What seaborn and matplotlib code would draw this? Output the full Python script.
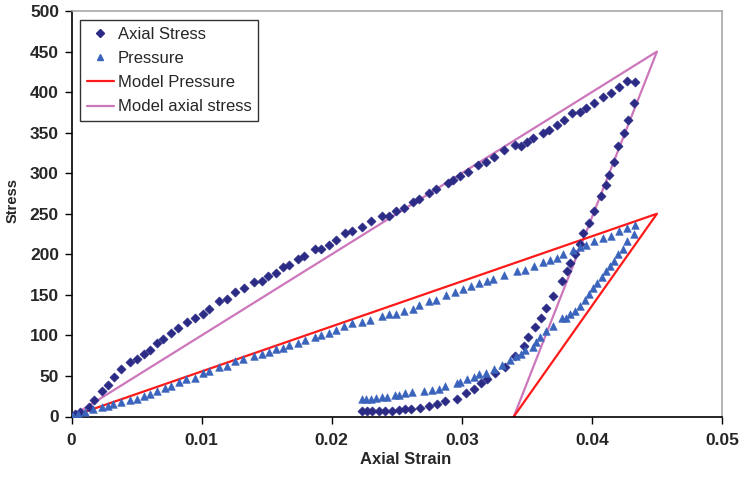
import matplotlib
matplotlib.use("Agg")
import matplotlib.pyplot as plt
from matplotlib import font_manager
from matplotlib.lines import Line2D
import seaborn as sns
import pandas as pd

# ---- data ----
axial_loading = [
    (0, 0), (0.00027, 3), (0.00065, 5), (0.00136, 12), (0.00175, 20), (0.00236, 31),
    (0.00277, 39), (0.00328, 49), (0.00384, 59), (0.0045, 67), (0.00504, 71), (0.00555, 77),
    (0.00601, 82), (0.0066, 91), (0.00703, 95), (0.00762, 103), (0.00821, 109), (0.0089, 117),
    (0.00948, 121), (0.01009, 127), (0.0106, 133), (0.01137, 142), (0.01196, 145), (0.01257, 153),
    (0.01323, 159), (0.01405, 166), (0.01464, 167), (0.01512, 173), (0.01571, 177), (0.01622, 184),
    (0.01673, 187), (0.01742, 194), (0.01788, 198), (0.0187, 206), (0.01916, 206), (0.01979, 212),
    (0.0203, 218), (0.021, 226), (0.02158, 229), (0.02234, 234), (0.02299, 241), (0.02388, 247),
    (0.02439, 247), (0.02498, 253), (0.02554, 257), (0.02623, 264), (0.02674, 268), (0.02745, 275),
    (0.02804, 281), (0.02893, 288), (0.02936, 291), (0.02988, 296), (0.03046, 302), (0.03128, 310),
    (0.03187, 314), (0.0325, 320), (0.03327, 328), (0.03409, 335), (0.03452, 334), (0.03503, 339),
    (0.03549, 343), (0.03626, 350), (0.03672, 353), (0.03728, 359), (0.03784, 366), (0.0385, 374),
    (0.03906, 375), (0.03957, 381), (0.04016, 386), (0.04085, 394), (0.04144, 399), (0.04207, 406),
    (0.04271, 414), (0.04332, 412),
]
axial_unloading = [
    (0.04322, 387), (0.04276, 366), (0.04246, 349), (0.042, 333), (0.04167, 314), (0.04128, 298),
    (0.04106, 285), (0.04072, 272), (0.04014, 254), (0.03975, 239), (0.03932, 226), (0.03906, 213),
    (0.03868, 200), (0.0383, 189), (0.03812, 179), (0.03771, 167), (0.03702, 149), (0.03651, 134),
    (0.03608, 122), (0.0356, 110), (0.03511, 98), (0.0348, 87), (0.03409, 74), (0.03332, 61),
    (0.03256, 54), (0.03192, 46), (0.03149, 41), (0.0309, 34), (0.03031, 29), (0.02962, 21),
    (0.02873, 19), (0.02809, 15), (0.02745, 13), (0.02681, 11), (0.02613, 9), (0.02567, 9),
    (0.02515, 8), (0.02464, 7), (0.02413, 7), (0.02362, 7), (0.02311, 7), (0.0227, 7), (0.0223, 7),
]
pressure_loading = [
    (0, 0), (0.00015, 1), (0.00053, 3), (0.001, 6), (0.00167, 9), (0.00231, 12), (0.00277, 13),
    (0.0032, 16), (0.00384, 18), (0.00448, 20), (0.00507, 22), (0.00555, 25), (0.00601, 28),
    (0.0066, 32), (0.00716, 35), (0.00767, 38), (0.00823, 42), (0.00882, 46), (0.00946, 48),
    (0.01009, 54), (0.01055, 56), (0.01132, 61), (0.01196, 62), (0.01257, 68), (0.01321, 71),
    (0.014, 74), (0.01464, 77), (0.01515, 80), (0.01571, 83), (0.01622, 85), (0.01673, 88),
    (0.01744, 91), (0.01793, 94), (0.01872, 98), (0.01916, 100), (0.01979, 103), (0.0203, 107),
    (0.02094, 112), (0.02158, 115), (0.0223, 117), (0.02293, 119), (0.02383, 124), (0.02439, 126),
    (0.02495, 127), (0.02554, 130), (0.02625, 133), (0.02674, 137), (0.02745, 142), (0.02804, 144),
    (0.02878, 150), (0.0295, 153), (0.0301, 157), (0.0307, 161), (0.0313, 164), (0.0319, 167),
    (0.03243, 170), (0.03327, 174), (0.03421, 180), (0.03485, 181), (0.03554, 186), (0.03626, 190),
    (0.03677, 193), (0.03728, 196), (0.03779, 200), (0.03855, 205), (0.03906, 209), (0.03957, 211),
    (0.04016, 216), (0.04085, 220), (0.04144, 223), (0.04205, 229), (0.04271, 233), (0.04332, 236),
]
pressure_unloading = [
    (0.0432, 225), (0.04271, 216), (0.04238, 207), (0.042, 200), (0.04169, 192), (0.04136, 186),
    (0.0411, 179), (0.04077, 172), (0.04041, 164), (0.04008, 158), (0.03975, 151), (0.03944, 144),
    (0.03906, 136), (0.03868, 130), (0.0383, 126), (0.03804, 121), (0.03771, 121), (0.03702, 111),
    (0.03651, 105), (0.036, 98), (0.03574, 92), (0.03549, 86), (0.03485, 82), (0.03455, 77),
    (0.03417, 74), (0.0337, 70), (0.03306, 64), (0.03248, 58), (0.03187, 54), (0.03136, 52),
    (0.0309, 49), (0.03038, 46), (0.02988, 42), (0.02962, 41), (0.02873, 37), (0.02822, 34),
    (0.0277, 33), (0.02707, 31), (0.02617, 30), (0.02567, 29), (0.02515, 27), (0.0249, 27),
    (0.02426, 24), (0.02388, 24), (0.02337, 23), (0.02299, 22), (0.02261, 22), (0.02234, 22),
]
model_strain = [0, 0.045, 0.034]
model_axial = [0, 450, 0]
model_pressure = [0, 250, 0]

x_ticks = [0, 0.01, 0.02, 0.03, 0.04, 0.05]
x_tick_labels = ["0", "0.01", "0.02", "0.03", "0.04", "0.05"]
y_ticks = [0, 50, 100, 150, 200, 250, 300, 350, 400, 450, 500]

# ---- build tables ----
axial_df = pd.DataFrame(axial_loading + axial_unloading, columns=["strain", "stress"])
press_df = pd.DataFrame(pressure_loading + pressure_unloading, columns=["strain", "stress"])
model_df = pd.DataFrame({"strain": model_strain, "axial": model_axial, "pressure": model_pressure})

sns.set_theme(style="white")
names = {f.name for f in font_manager.fontManager.ttflist}
tick_family = "Liberation Sans Narrow" if "Liberation Sans Narrow" in names else "Liberation Sans"
plt.rcParams["font.family"] = ["Liberation Sans", "DejaVu Sans"]

fig = plt.figure(figsize=(7.41, 4.86), dpi=100)
ax = fig.add_axes([71.5 / 741, 1 - 416.5 / 486, (722 - 71.5) / 741, (416.5 - 11) / 486])

C_AX = "#2B2B86"
C_PR = "#3A64BC"
C_MP = "#FF1A1A"
C_MA = "#CC77BB"

sns.lineplot(data=model_df, x="strain", y="axial", sort=False, estimator=None,
             color=C_MA, lw=1.6, ax=ax, zorder=2)
sns.lineplot(data=model_df, x="strain", y="pressure", sort=False, estimator=None,
             color=C_MP, lw=1.6, ax=ax, zorder=2)
sns.scatterplot(data=axial_df, x="strain", y="stress", marker="D", s=22, color=C_AX,
                edgecolor=C_AX, linewidth=0.4, ax=ax, zorder=3)
sns.scatterplot(data=press_df, x="strain", y="stress", marker="^", s=30, color=C_PR,
                edgecolor=C_PR, linewidth=0.4, ax=ax, zorder=3)

ax.set_xlim(0, 0.05)
ax.set_ylim(0, 500)
ax.set_xticks(x_ticks)
ax.set_xticklabels(x_tick_labels)
ax.set_yticks(y_ticks)
for lab in ax.get_xticklabels() + ax.get_yticklabels():
    lab.set_family([tick_family, "DejaVu Sans"])
    lab.set_fontweight("bold")
    lab.set_fontsize(12.5)
ax.tick_params(axis="both", direction="out", length=5, width=1, color="black",
               bottom=True, left=True)
ax.tick_params(axis="y", pad=4)
ax.tick_params(axis="x", pad=7)

for side in ["left", "bottom"]:
    ax.spines[side].set_color("black")
    ax.spines[side].set_linewidth(1.2)
for side in ["top", "right"]:
    ax.spines[side].set_color("#A8A8A8")
    ax.spines[side].set_linewidth(1.2)

ax.set_xlabel("Axial Strain", fontsize=12, fontweight="bold",
              family=[tick_family, "DejaVu Sans"], va="center")
ax.xaxis.set_label_coords((406 - 71.5) / 650.5, -(460 - 416.5) / 405.5)
ax.set_ylabel("Stress", fontsize=10.5, fontweight="bold",
              family=[tick_family, "DejaVu Sans"], va="center")
ax.yaxis.set_label_coords((13 - 71.5) / 650.5, (416.5 - 200) / 405.5)

handles = [
    Line2D([], [], ls="none", marker="D", ms=4.2, color=C_AX),
    Line2D([], [], ls="none", marker="^", ms=5, color=C_PR),
    Line2D([], [], color=C_MP, lw=1.6),
    Line2D([], [], color=C_MA, lw=1.6),
]
labels = ["Axial Stress", "Pressure", "Model Pressure", "Model axial stress"]
leg = ax.legend(handles, labels, loc="upper left", bbox_to_anchor=(0.0135, 0.977),
                frameon=True, fancybox=False, shadow=False, fontsize=12,
                handlelength=1.6, handletextpad=0.25, labelspacing=0.55,
                borderpad=0.4, borderaxespad=0)
leg.get_frame().set_edgecolor("black")
leg.get_frame().set_linewidth(1.0)

fig.savefig("out.png", dpi=100)
